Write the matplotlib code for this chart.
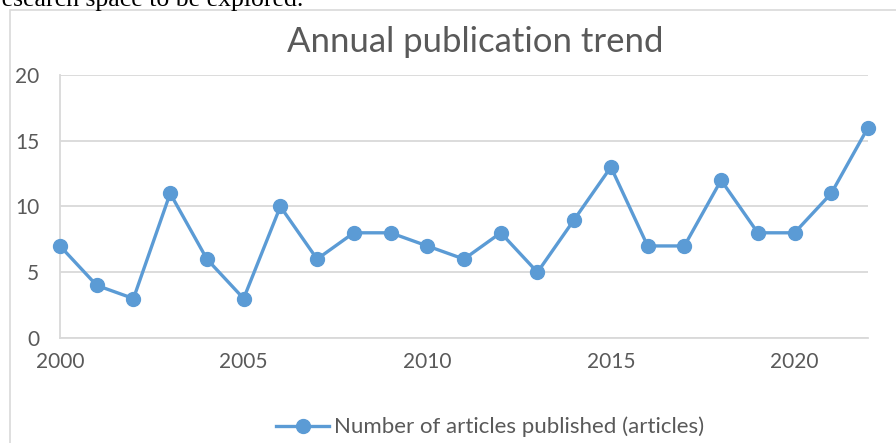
import matplotlib.pyplot as plt
from matplotlib.patches import Rectangle

years = list(range(2000, 2023))
articles = [7, 4, 3, 11, 6, 3, 10, 6, 8, 8, 7, 6, 8, 5, 9, 13, 7, 7, 12, 8, 8, 11, 16]
yticks = [0, 5, 10, 15, 20]
xticks = [2000, 2005, 2010, 2015, 2020]

blue = '#5B9BD5'
grey = '#595959'
plt.rcParams['font.family'] = ['Lato', 'DejaVu Sans']

fig = plt.figure(figsize=(8.96, 4.43), dpi=100)
W, H = 896, 443

# chart frame (cut off by the page on the right and bottom)
fig.patches.append(Rectangle((10 / W, -0.1), 2, (H - 10) / H + 0.1,
                             transform=fig.transFigure, fill=False,
                             edgecolor='#D9D9D9', linewidth=1.2))

# end of the body text above the chart
fig.text(-7 / W, 1 - 6 / H, 'research space to be explored.', family='Liberation Serif',
         fontsize=18.5, color='black', ha='left', va='baseline')

ax = fig.add_axes([60 / W, 1 - 338 / H, 808 / W, 263 / H])
ax.plot(years, articles, color=blue, linewidth=2.4, marker='o', markersize=10,
        clip_on=False, zorder=3, label='Number of articles published (articles)')

ax.set_xlim(2000, 2022)
ax.set_ylim(0, 20)
ax.set_yticks(yticks)
ax.set_xticks(xticks)
ax.grid(axis='y', color='#D9D9D9', linewidth=1.3)
ax.set_axisbelow(True)
for s in ['top', 'right']:
    ax.spines[s].set_visible(False)
ax.spines['left'].set_color('#D9D9D9')
ax.spines['bottom'].set_color('#D9D9D9')
ax.spines['left'].set_linewidth(1.3)
ax.spines['bottom'].set_linewidth(1.3)
ax.tick_params(length=0, labelsize=15, labelcolor=grey)
ax.tick_params(axis='y', pad=15)
ax.tick_params(axis='x', pad=10)

fig.text(475 / W, 1 - 42 / H, 'Annual publication trend', fontsize=25, color=grey,
         ha='center', va='center')

fig.legend(loc='center', bbox_to_anchor=(490 / W, 1 - 427 / H), frameon=False,
           fontsize=16, labelcolor=grey, handlelength=2.4, handletextpad=0.2)

fig.savefig('out.png', dpi=100)
